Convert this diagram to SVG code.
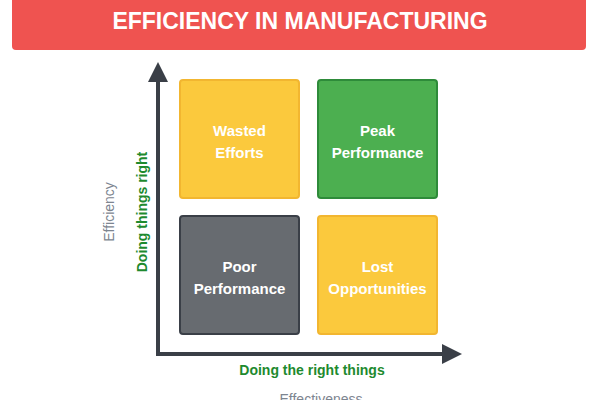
<svg xmlns="http://www.w3.org/2000/svg" width="600" height="400" viewBox="0 0 600 400">
<style>
.box{stroke-width:2;rx:3}
.lbl{font-family:"Liberation Sans",Arial,sans-serif;font-weight:bold;font-size:15px;fill:#fff;text-anchor:middle}
.ax{stroke:#3a3f47;stroke-width:4;fill:none}
.g{font-family:"Liberation Sans",Arial,sans-serif;font-weight:bold;font-size:14px;fill:#1e8a2e;text-anchor:middle}
.gr{font-family:"Liberation Sans",Arial,sans-serif;font-size:14px;fill:#7d8590;text-anchor:middle}
</style>
<defs><marker id="ar" markerWidth="5" markerHeight="5" refX="2.5" refY="2.5" orient="auto" markerUnits="strokeWidth"><path d="M0,0L5,2.5L0,5Z" fill="#3a3f47"/></marker></defs>
<rect x="0" y="0" width="600" height="400" fill="#fff"/>
<g id="title"><rect x="12" y="-6" width="574" height="56" rx="4" fill="#ef5350"/>
<text x="300" y="29" font-family="'Liberation Sans',Arial,sans-serif" font-weight="bold" font-size="23" fill="#fff" text-anchor="middle">EFFICIENCY IN MANUFACTURING</text></g>
<g id="connectors">
<path class="ax" d="M158,354V72" marker-end="url(#ar)"/>
<path class="ax" d="M156,354H452" marker-end="url(#ar)"/>
</g>
<g id="wasted"><rect class="box" x="180" y="80" width="119" height="118" fill="#fbc93d" stroke="#f2b630"/><text class="lbl" x="239.5" y="136">Wasted</text><text class="lbl" x="239.5" y="158">Efforts</text></g>
<g id="peak"><rect class="box" x="318" y="80" width="119" height="118" fill="#4caf50" stroke="#2e8b3a"/><text class="lbl" x="377.5" y="136">Peak</text><text class="lbl" x="377.5" y="158">Performance</text></g>
<g id="poor"><rect class="box" x="180" y="216" width="119" height="118" fill="#676b70" stroke="#3a3f47"/><text class="lbl" x="239.5" y="272">Poor</text><text class="lbl" x="239.5" y="294">Performance</text></g>
<g id="lost"><rect class="box" x="318" y="216" width="119" height="118" fill="#fbc93d" stroke="#f2b630"/><text class="lbl" x="377.5" y="272">Lost</text><text class="lbl" x="377.5" y="294">Opportunities</text></g>
<text class="g" transform="translate(147,212) rotate(-90)">Doing things right</text>
<text class="gr" transform="translate(114,212) rotate(-90)">Efficiency</text>
<text class="g" x="312" y="375">Doing the right things</text>
<text class="gr" x="321" y="404">Effectiveness</text>
</svg>
